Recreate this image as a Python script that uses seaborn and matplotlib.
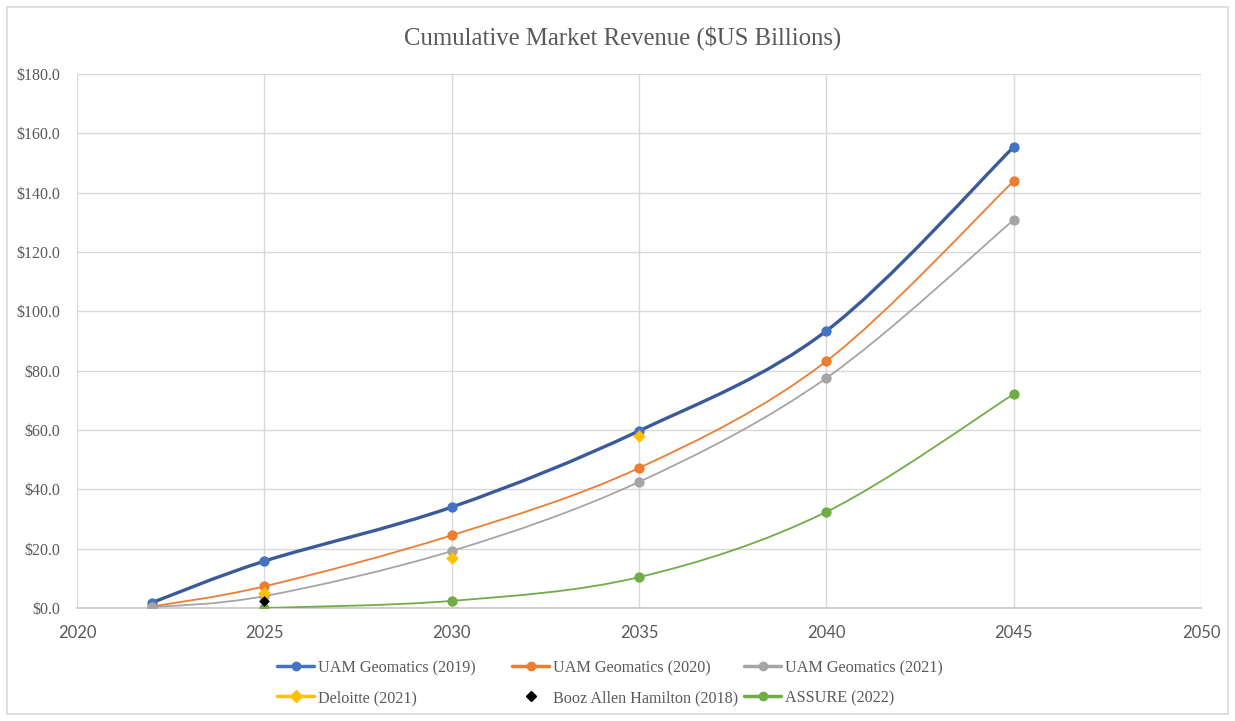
import numpy as np
import pandas as pd
import matplotlib
matplotlib.use("Agg")
import matplotlib.pyplot as plt
import seaborn as sns
from matplotlib.path import Path
from matplotlib.patches import PathPatch, Rectangle
from matplotlib.lines import Line2D
from matplotlib.ticker import FuncFormatter, MultipleLocator

# ---------------- data ----------------
years_uam = [2022, 2025, 2030, 2035, 2040, 2045]
uam_2019 = [1.8, 15.8, 34.0, 59.7, 93.4, 155.4]
uam_2020 = [0.5, 7.3, 24.5, 47.2, 83.2, 143.9]
uam_2021 = [0.3, 4.0, 19.2, 42.5, 77.5, 130.8]
years_deloitte = [2025, 2030, 2035]
deloitte_2021 = [5.0, 16.9, 58.0]
years_booz = [2025]
booz_2018 = [2.4]
years_assure = [2025, 2030, 2035, 2040, 2045]
assure_2022 = [0.0, 2.4, 10.4, 32.4, 72.1]

labels = ["UAM Geomatics (2019)", "UAM Geomatics (2020)", "UAM Geomatics (2021)",
          "Deloitte (2021)", "Booz Allen Hamilton (2018)", "ASSURE (2022)"]

sns.set_theme(style="white")
plt.rcParams['font.family'] = ['Liberation Serif', 'DejaVu Serif']

TXT = "#595959"
GRID = "#D9D9D9"

fig = plt.figure(figsize=(12.35, 7.21), dpi=100)
ax = fig.add_axes([77/1235, 1-608/721, (1201-77)/1235, (608-74)/721])

def smooth(ax, xs, ys, color, lw, z):
    P = np.column_stack([xs, ys]).astype(float)
    n = len(P)
    verts = [tuple(P[0])]
    codes = [Path.MOVETO]
    for i in range(n - 1):
        p0 = P[i - 1] if i > 0 else P[i]
        p1 = P[i]
        p2 = P[i + 1]
        p3 = P[i + 2] if i + 2 < n else P[i + 1]
        c1 = p1 + (p2 - p0) / 6.0
        c2 = p2 - (p3 - p1) / 6.0
        verts += [tuple(c1), tuple(c2), tuple(p2)]
        codes += [Path.CURVE4] * 3
    patch = PathPatch(Path(verts, codes), facecolor="none", edgecolor=color,
                      lw=lw, zorder=z, capstyle="round", joinstyle="round")
    ax.add_patch(patch)

series = [
    (years_uam, uam_2019, "#3A5A9C", "#4472C4", 2.4, "o", 55),
    (years_uam, uam_2020, "#ED7D31", "#ED7D31", 1.3, "o", 55),
    (years_uam, uam_2021, "#A5A5A5", "#A5A5A5", 1.3, "o", 55),
    (years_assure, assure_2022, "#70AD47", "#70AD47", 1.3, "o", 55),
]
for i, (xs, ys, lc, mc, lw, mk, s) in enumerate(series):
    smooth(ax, xs, ys, lc, lw, 3 + i * 0.1)

z = 5
for xs, ys, lc, mc, lw, mk, s in series:
    df = pd.DataFrame({"x": xs, "y": ys})
    sns.scatterplot(data=df, x="x", y="y", ax=ax, color=mc, marker=mk, s=s,
                    edgecolor=mc, linewidth=0, zorder=z, legend=False)
    z += 0.1

df_d = pd.DataFrame({"x": years_deloitte, "y": deloitte_2021})
sns.scatterplot(data=df_d, x="x", y="y", ax=ax, color="#FFC000", marker="D", s=42,
                linewidth=0, zorder=6, legend=False)
df_b = pd.DataFrame({"x": years_booz, "y": booz_2018})
sns.scatterplot(data=df_b, x="x", y="y", ax=ax, color="#000000", marker="D", s=30,
                linewidth=0, zorder=6.1, legend=False)

ax.set_xlim(2020, 2050)
ax.set_ylim(0, 180)
ax.xaxis.set_major_locator(MultipleLocator(5))
ax.yaxis.set_major_locator(MultipleLocator(20))
ax.yaxis.set_major_formatter(FuncFormatter(lambda v, p: f"${v:.1f}"))
ax.grid(True, color=GRID, lw=1.0)
ax.set_axisbelow(True)
for sp in ["top", "right", "left"]:
    ax.spines[sp].set_visible(False)
ax.spines["bottom"].set_color("#C8C8C8")
ax.spines["bottom"].set_linewidth(1.2)
ax.tick_params(axis="both", length=0, colors=TXT)
ax.tick_params(axis="y", pad=12, labelsize=11.5)
ax.tick_params(axis="x", pad=12, labelsize=12)
for t in ax.get_xticklabels():
    t.set_fontfamily(['Lato', 'DejaVu Sans'])
ax.set_xlabel("")
ax.set_ylabel("")

fig.text(623/1235, 1-38/721, "Cumulative Market Revenue ($US Billions)",
         ha="center", va="center", fontsize=17.8, color=TXT)

handles = [
    Line2D([], [], color="#4472C4", lw=2.5, marker="o", markersize=6),
    Line2D([], [], color="#ED7D31", lw=2.5, marker="o", markersize=6),
    Line2D([], [], color="#A5A5A5", lw=2.5, marker="o", markersize=6),
    Line2D([], [], color="#FFC000", lw=2.5, marker="D", markersize=6),
    Line2D([], [], color="#000000", lw=0, marker="D", markersize=5),
    Line2D([], [], color="#70AD47", lw=2.5, marker="o", markersize=6),
]
xpos = [277, 512, 744]
ypos = [668, 698]
for i in range(6):
    r, c = divmod(i, 3)
    leg = fig.legend([handles[i]], [labels[i]], loc="center left",
                     bbox_to_anchor=(xpos[c]/1235, 1-ypos[r]/721),
                     frameon=False, fontsize=11.6, handlelength=2.3, handletextpad=0.25,
                     borderpad=0, borderaxespad=0)
    for t in leg.get_texts():
        t.set_color(TXT)

fig.patches.append(Rectangle((7/1235, 7/721), 1221/1235, 707/721, transform=fig.transFigure,
                             fill=False, edgecolor=GRID, lw=1.2))

fig.savefig("out.png", dpi=100, facecolor="white")
